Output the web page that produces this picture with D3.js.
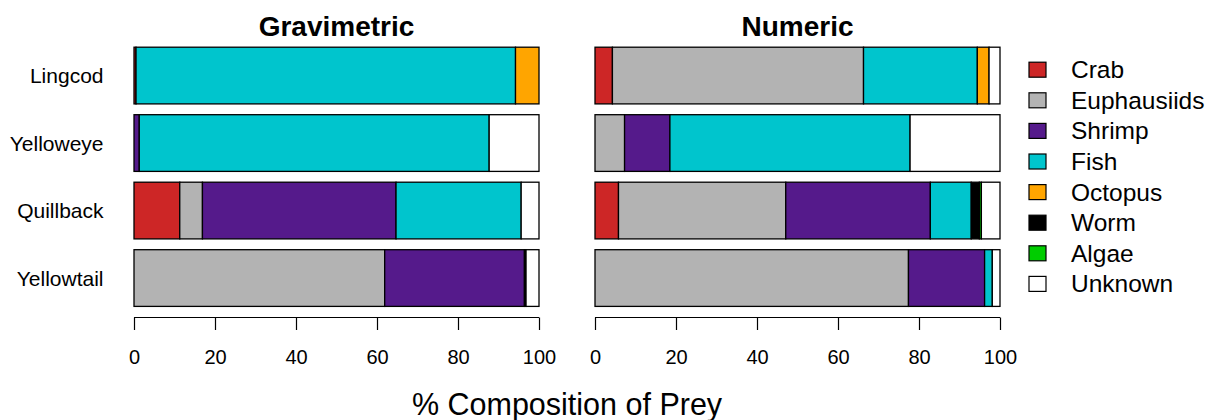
<!DOCTYPE html>
<html>
<head>
<meta charset="utf-8">
<script src="https://cdn.jsdelivr.net/npm/d3@7"></script>
<style>
  html, body { margin: 0; padding: 0; background: #fff; }
  svg text { font-family: "Liberation Sans", Arial, Helvetica, sans-serif; fill: #000; }
</style>
</head>
<body>
<svg id="chart" width="1211" height="420"></svg>
<script>
// Rockfish / lingcod diet composition (% of prey)
const species = ["Lingcod", "Yelloweye", "Quillback", "Yellowtail"];
const preyTypes = ["Crab", "Euphausiids", "Shrimp", "Fish", "Octopus", "Worm", "Algae", "Unknown"];
const preyColors = ["#CD2626", "#B3B3B3", "#551A8B", "#00C5CD", "#FFA500", "#000000", "#00CD00", "#FFFFFF"];
const panelTitles = ["Gravimetric", "Numeric"];
const tickValues = [0, 20, 40, 60, 80, 100];

// Gravimetric composition, one array per prey type (Lingcod, Yelloweye, Quillback, Yellowtail)
const gravCrab    = [0.5, 0, 11.3, 0];
const gravEuph    = [0, 0, 5.6, 61.9];
const gravShrimp  = [0, 1.3, 47.8, 34.5];
const gravFish    = [93.7, 86.4, 30.9, 0];
const gravOctopus = [5.8, 0, 0, 0];
const gravWorm    = [0, 0, 0, 0.4];
const gravAlgae   = [0, 0, 0, 0];
const gravUnknown = [0, 12.3, 4.4, 3.2];

// Numeric composition
const numCrab    = [4.3, 0, 5.8, 0];
const numEuph    = [62.0, 7.3, 41.3, 77.4];
const numShrimp  = [0, 11.2, 35.7, 18.8];
const numFish    = [28.1, 59.3, 10.1, 1.9];
const numOctopus = [2.9, 0, 0, 0];
const numWorm    = [0, 0, 2.0, 0];
const numAlgae   = [0, 0, 0.5, 0];
const numUnknown = [2.7, 22.2, 4.6, 1.9];

const gravSeries = [gravCrab, gravEuph, gravShrimp, gravFish, gravOctopus, gravWorm, gravAlgae, gravUnknown];
const numSeries  = [numCrab, numEuph, numShrimp, numFish, numOctopus, numWorm, numAlgae, numUnknown];

function toRows(series) {
  return species.map((s, i) => {
    const row = { species: s };
    preyTypes.forEach((p, j) => { row[p] = series[j][i]; });
    return row;
  });
}

const svg = d3.select("#chart");
const color = d3.scaleOrdinal().domain(preyTypes).range(preyColors);
const stack = d3.stack().keys(preyTypes);

const y = d3.scaleBand()
  .domain(species)
  .range([41.8, 311.8])
  .paddingInner(0.16)
  .paddingOuter(0.08);

const panels = [
  { title: panelTitles[0], rows: toRows(gravSeries), x0: 134, x1: 539, labels: true },
  { title: panelTitles[1], rows: toRows(numSeries),  x0: 595, x1: 1000, labels: false }
];

const axisY = 317.5;

panels.forEach(panel => {
  const x = d3.scaleLinear().domain([0, 100]).range([panel.x0, panel.x1]);
  const g = svg.append("g");
  const layers = stack(panel.rows);

  g.selectAll("g.layer")
    .data(layers)
    .join("g")
      .attr("class", "layer")
      .attr("fill", d => color(d.key))
    .selectAll("rect")
    .data(d => d.filter(v => v[1] - v[0] > 0))
    .join("rect")
      .attr("x", d => x(d[0]))
      .attr("width", d => x(d[1]) - x(d[0]))
      .attr("y", d => y(d.data.species))
      .attr("height", y.bandwidth())
      .attr("stroke", "#000")
      .attr("stroke-width", 1.3);

  // panel title
  svg.append("text")
    .attr("x", (panel.x0 + panel.x1) / 2)
    .attr("y", 35.5)
    .attr("text-anchor", "middle")
    .attr("font-size", 28)
    .attr("font-weight", "bold")
    .text(panel.title);

  // x axis
  const axis = d3.axisBottom(x).tickValues(tickValues).tickSize(12.5).tickPadding(6).tickFormat(d3.format("d"));
  const ag = svg.append("g")
    .attr("transform", `translate(0,${axisY})`)
    .call(axis);
  ag.select(".domain").attr("stroke", "#000").attr("stroke-width", 1.2).attr("d", `M${panel.x0},0H${panel.x1}`);
  ag.selectAll(".tick line").attr("stroke", "#000").attr("stroke-width", 1.2);
  ag.selectAll(".tick text")
    .attr("font-size", 20)
    .attr("font-family", "Liberation Sans, Arial, sans-serif")
    .attr("fill", "#000")
    .attr("dy", null)
    .attr("y", 46);

  if (panel.labels) {
    svg.append("g").selectAll("text")
      .data(species)
      .join("text")
        .attr("x", 103.5)
        .attr("y", d => y(d) + y.bandwidth() / 2 + 7.5)
        .attr("text-anchor", "end")
        .attr("font-size", 21)
        .text(d => d);
  }
});

// shared axis title, centred under both panels
svg.append("text")
  .attr("x", (panels[0].x0 + panels[1].x1) / 2)
  .attr("y", 414.5)
  .attr("text-anchor", "middle")
  .attr("font-size", 30.5)
  .text("% Composition of Prey");

// legend
const legend = svg.append("g");
const legendRows = legend.selectAll("g")
  .data(preyTypes)
  .join("g")
    .attr("transform", (d, i) => `translate(0,${69.7 + i * 30.6})`);
legendRows.append("rect")
  .attr("x", 1029)
  .attr("y", -7.5)
  .attr("width", 17)
  .attr("height", 15)
  .attr("fill", d => color(d))
  .attr("stroke", "#000")
  .attr("stroke-width", 1.2);
legendRows.append("text")
  .attr("x", 1071)
  .attr("y", 8.5)
  .attr("font-size", 24.5)
  .text(d => d);
</script>
</body>
</html>
